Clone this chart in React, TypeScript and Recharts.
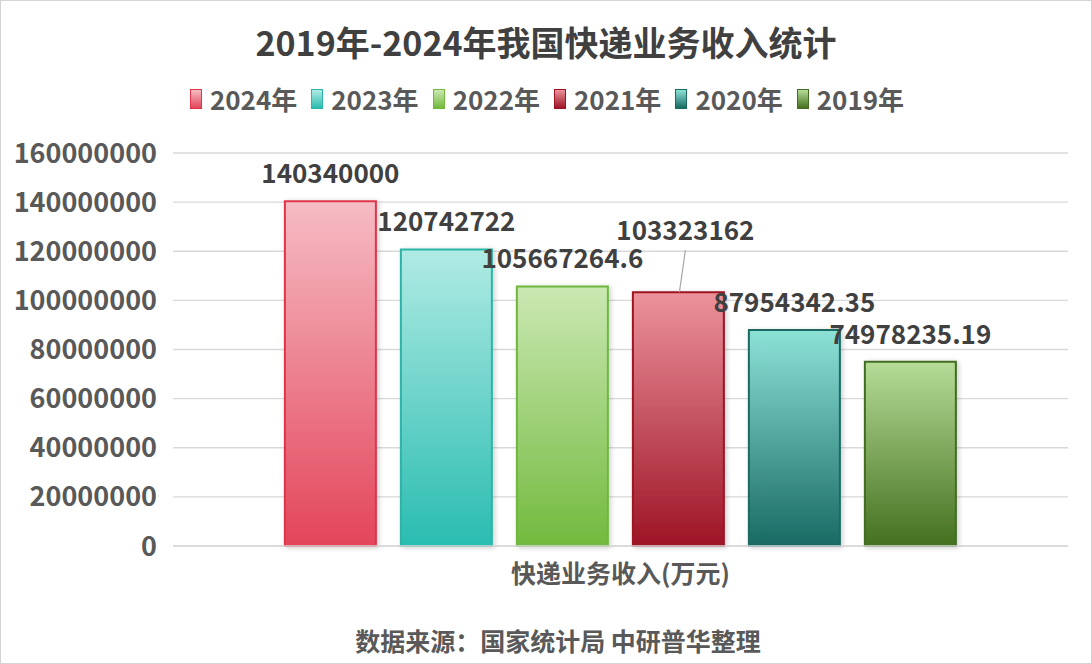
import React from 'react';
import { ComposedChart, Bar, XAxis, YAxis, CartesianGrid, LabelList } from 'recharts';

const categories = ['快递业务收入(万元)'];
const seriesNames = ['2024年', '2023年', '2022年', '2021年', '2020年', '2019年'];
const seriesValues = [140340000, 120742722, 105667264.6, 103323162, 87954342.35, 74978235.19];
const yTicks = [0, 20000000, 40000000, 60000000, 80000000, 100000000, 120000000, 140000000, 160000000];

const gradTop = ['#f6bcc4', '#b0ebe4', '#cbe8b3', '#ec929b', '#8de2d8', '#b6dc97'];
const gradBottom = ['#e3455a', '#2abcb0', '#72ba3e', '#9d1426', '#186a63', '#44701f'];
const strokes = ['#e0344a', '#2ab5a8', '#6fb83c', '#9e1424', '#1b6a62', '#426c24'];

const keys = seriesNames.map((_, i) => 's' + i);
const row: Record<string, any> = { name: categories[0] };
keys.forEach((k, i) => { row[k] = seriesValues[i]; });
const data = [row];

const FONT = '"Noto Sans CJK SC", "Noto Sans", sans-serif';

const makeLabel = (idx: number) => (props: any) => {
  const { x, y, width, value } = props;
  const cx = x + width / 2;
  if (idx === 3) {
    const ly = y - 52;
    return (
      <g>
        <line x1={cx + 1} y1={y} x2={cx + 7} y2={ly + 10} stroke="#a6a6a6" strokeWidth={1.2} />
        <text x={cx + 7} y={ly} textAnchor="middle" fontSize={26} fontWeight="bold" fill="#404040" fontFamily={FONT}>{value}</text>
      </g>
    );
  }
  return (
    <text x={cx} y={y - 18} textAnchor="middle" fontSize={26} fontWeight="bold" fill="#404040" fontFamily={FONT}>{value}</text>
  );
};

const LegendBlock = () => (
  <div style={{ position: 'absolute', top: 81, left: 0, width: 1092, display: 'flex', justifyContent: 'center', fontFamily: FONT, fontWeight: 'bold', fontSize: 26, color: '#595959', lineHeight: '34px' }}>
    {seriesNames.map((n, i) => (
      <div key={n} style={{ display: 'flex', alignItems: 'center', marginRight: i < 5 ? 14 : 0 }}>
        <div style={{ width: 12, height: 20, border: `1px solid ${strokes[i]}`, boxSizing: 'border-box', background: `linear-gradient(${gradTop[i]}, ${gradBottom[i]})`, marginRight: 8 }} />
        <span>{n}</span>
      </div>
    ))}
  </div>
);

export default function App() {
  return (
    <div style={{ position: 'fixed', left: 0, top: 0, width: 1092, height: 664, background: '#fff', border: '1px solid #d4d4d4', boxSizing: 'border-box', overflow: 'hidden' }}>
      <div style={{ position: 'absolute', top: 16, width: '100%', textAlign: 'center', fontFamily: FONT, fontWeight: 'bold', fontSize: 34, color: '#404040' }}>
        2019年-2024年我国快递业务收入统计
      </div>
      <LegendBlock />
      <div style={{ position: 'absolute', top: 621, left: 0, width: 1114, textAlign: 'center', fontFamily: FONT, fontWeight: 'bold', fontSize: 25, color: '#595959' }}>
        数据来源：国家统计局 中研普华整理
      </div>
      <div style={{ position: 'absolute', left: -1, top: -1 }}>
        <ComposedChart width={1092} height={664} data={data} margin={{ top: 153, right: 24, bottom: 88, left: 22 }} barCategoryGap="12.5%" barGap={25}>
          <defs>
            {keys.map((k, i) => (
              <linearGradient key={k} id={'g' + i} x1="0" y1="0" x2="0" y2="1">
                <stop offset="0%" stopColor={gradTop[i]} />
                <stop offset="100%" stopColor={gradBottom[i]} />
              </linearGradient>
            ))}
            <filter id="sh" x="-20%" y="-10%" width="140%" height="120%">
              <feDropShadow dx="2" dy="1" stdDeviation="2.5" floodColor="#000" floodOpacity="0.18" />
            </filter>
          </defs>
          <CartesianGrid vertical={false} stroke="#d9d9d9" strokeWidth={1.3} />
          <XAxis dataKey="name" height={30} axisLine={{ stroke: '#d9d9d9', strokeWidth: 1.5 }} tickLine={false} tickSize={0} tickMargin={19}
            tick={{ fontSize: 25, fontWeight: 'bold', fill: '#595959', fontFamily: FONT }} />
          <YAxis width={151} domain={[0, 160000000]} ticks={yTicks} axisLine={false} tickLine={false} tickSize={0} tickMargin={16} interval={0}
            tick={{ fontSize: 27, fontWeight: 'bold', fill: '#595959', fontFamily: FONT }} />
          {keys.map((k, i) => (
            <Bar key={k} dataKey={k} name={seriesNames[i]} fill={`url(#g${i})`} stroke={strokes[i]} strokeWidth={2} isAnimationActive={false} style={{ filter: 'url(#sh)' }}>
              <LabelList dataKey={k} content={makeLabel(i)} />
            </Bar>
          ))}
        </ComposedChart>
      </div>
    </div>
  );
}
